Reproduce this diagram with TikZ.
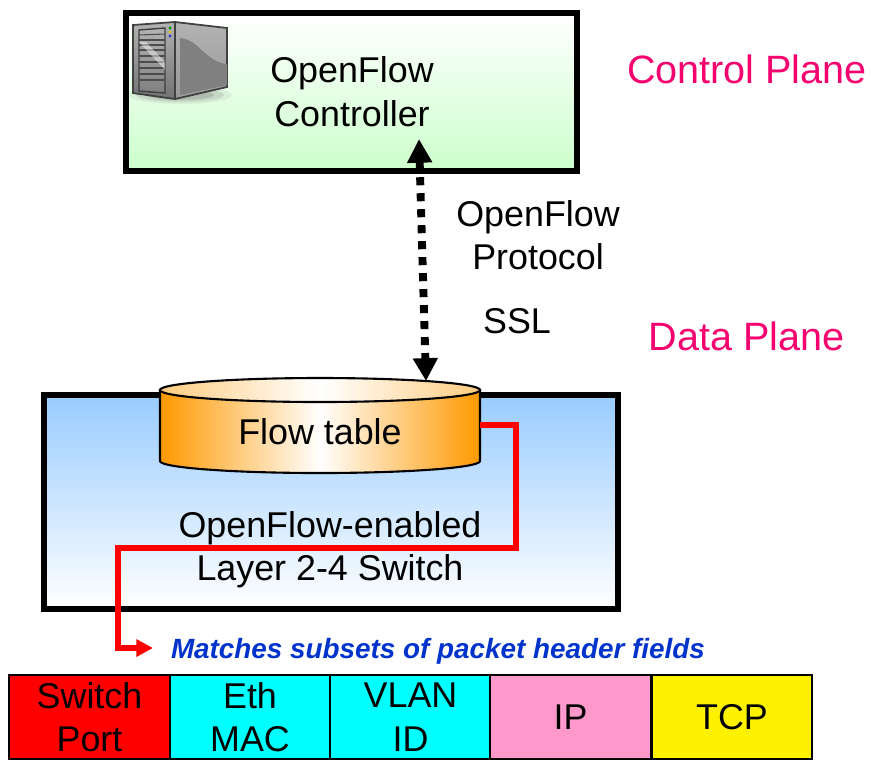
\documentclass[tikz,border=0pt]{standalone}
\usepackage{fontspec}
\setmainfont{Liberation Sans}
\usetikzlibrary{arrows.meta}
\definecolor{planepink}{HTML}{F5006E}
\definecolor{matchblue}{HTML}{0033CC}
\definecolor{ctrlgreen}{HTML}{CCFFCC}
\definecolor{switchblue}{HTML}{99CCFF}
\definecolor{tblorange}{HTML}{FF9900}
\definecolor{ipink}{HTML}{FF99CC}
\definecolor{ethcyan}{HTML}{00FFFF}
\tikzset{
  label text/.style={font=\fontsize{20.4}{24.7}\selectfont,align=center,inner sep=0pt},
  plane text/.style={font=\fontsize{22.5}{26}\selectfont,text=planepink,inner sep=0pt},
  plane box/.style={draw=black,line width=3.4pt,inner sep=0pt,outer sep=0pt},
  header cell/.style={draw=black,line width=1pt,inner sep=0pt,minimum height=1.68cm,font=\fontsize{20.4}{24.7}\selectfont,align=center},
  control link/.style={line width=4.5pt,dash pattern=on 4.6pt off 4.5pt,{Triangle[length=13.5pt,width=13.5pt]}-{Triangle[length=13pt,width=13.5pt]}},
  match link/.style={draw=red,line width=3.4pt,-{Triangle[length=9.5pt,width=9.5pt]}},
}
\begin{document}
\begin{tikzpicture}[x=0.02cm,y=-0.02cm]
\useasboundingbox (0,0) rectangle (871,769);
% control plane
\node[plane box,top color=white,bottom color=ctrlgreen,minimum width=9.02cm,minimum height=3.15cm] (ctrlbox) at (351.5,92) {};
% server icon
\fill[gray,opacity=0.12] (180,95) ellipse [x radius=52,y radius=9];
\fill[gray,opacity=0.2] (180,95) ellipse [x radius=44,y radius=7];
\fill[gray,opacity=0.3] (180,95) ellipse [x radius=34,y radius=5];
\draw[draw=black!75,line width=1pt,top color=black!30,bottom color=black!55] (133,25)--(175,22)--(175,99)--(133,93)--cycle;
\draw[draw=black!75,line width=1pt,top color=black!30,bottom color=black!40] (175,22)--(227,28)--(227,87)--(175,99)--cycle;
\fill[black!50] (180,38) .. controls (200,40) and (205,62) .. (227,64)--(227,85)--(180,95)--cycle;
\draw[black!75,line width=0.8pt,top color=black!30,bottom color=black!50] (139,30)--(165,28)--(165,93)--(139,91)--cycle;
\draw[black!70,line width=0.6pt] (139,35)--(165,34);
\draw[black!70,line width=0.6pt] (139,40)--(165,40);
\draw[black!70,line width=0.6pt] (139,45)--(165,45);
\draw[black!70,line width=0.6pt] (139,50)--(165,50);
\draw[black!70,line width=0.6pt] (139,56)--(165,56);
\draw[black!70,line width=0.6pt] (139,62)--(165,62);
\draw[black!70,line width=0.6pt] (139,68)--(165,68);
\draw[black!70,line width=0.6pt] (139,74)--(165,74);
\draw[black!70,line width=0.6pt] (139,80)--(165,80);
\fill[white,opacity=0.45] (139,42)--(146,42)--(165,62)--(165,70)--cycle;
\fill[black!40!green] (170,28) circle (1.6);
\fill[black!20!yellow] (170,32) circle (1.6);
\fill[blue!60!gray] (170,36) circle (1.6);
\node[label text] (ctrltext) at (352,91.5) {OpenFlow\\Controller};
\node[plane text] (ctrlplane) at (747,69) {Control Plane};
% data plane
\node[plane box,top color=switchblue,bottom color=white,minimum width=11.5cm,minimum height=4.28cm] (switchbox) at (331,502) {};
\draw[line width=1.2pt,left color=tblorange,right color=tblorange,middle color=white] (160,390)--(160,461) arc[start angle=180,end angle=0,x radius=160,y radius=12]--(480,390)--cycle;
\draw[line width=1.2pt,left color=tblorange!50!white,right color=tblorange!50!white,middle color=white] (320,390) ellipse [x radius=160,y radius=12];
\node[label text] (flowtext) at (320,432) {Flow table};
\node[label text] (switchtext) at (330,550) {OpenFlow-enabled\\Layer 2-4 Switch};
\node[plane text] (dataplane) at (746.5,336) {Data Plane};
% connectors
\coordinate (ctrlport) at (419,139);
\coordinate (tblport) at (426,381);
\coordinate (tblside) at (480,425);
\coordinate (matchend) at (153,648);
\draw[control link] (ctrlport)--(tblport);
\draw[match link] (tblside)-|(516,548)-|(118,648)--(matchend);
\node[label text] (prototext) at (538,235) {OpenFlow\\Protocol};
\node[label text] (ssltext) at (517,321) {SSL};
% packet header
\node[inner sep=0pt,text=matchblue,font=\fontsize{15.85}{18}\selectfont\bfseries\itshape] (matchtext) at (438,651) {Matches subsets of packet header fields};
\node[header cell,fill=red,minimum width=3.22cm] (portcell) at (89.5,717) {Switch\\Port};
\node[header cell,fill=ethcyan,minimum width=3.2cm] (maccell) at (250,717) {Eth\\MAC};
\node[header cell,fill=ethcyan,minimum width=3.22cm] (vlancell) at (410.5,717) {VLAN\\ID};
\node[header cell,fill=ipink,minimum width=3.22cm] (ipcell) at (570.5,717) {IP};
\node[header cell,fill=yellow,minimum width=3.2cm] (tcpcell) at (732,717) {TCP};
\end{tikzpicture}
\end{document}
